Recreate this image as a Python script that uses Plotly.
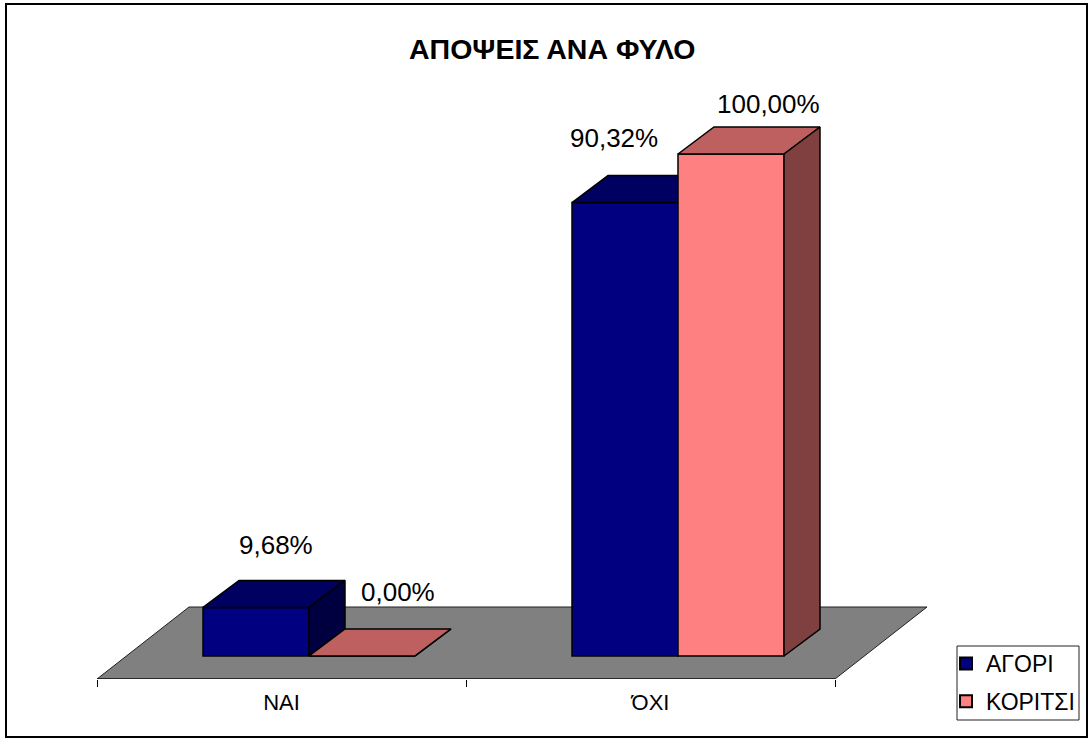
import plotly.graph_objects as go

categories = ["ΝΑΙ", "ΌΧΙ"]
boys = [9.68, 90.32]
girls = [0.0, 100.0]
series_names = ["ΑΓΟΡΙ", "ΚΟΡΙΤΣΙ"]
title_text = "ΑΠΟΨΕΙΣ ΑΝΑ ΦΥΛΟ"

# Layout in page pixels
W, H = 1092, 742
PL, PR, PT, PB = 97, W, 60, 679        # plot area
AXIS_END = 835
PX_PER_CAT = (AXIS_END - PL) / 2
PX_PER_PCT = 5.02
ZERO_PX = 656

AX = [-0.5, 1.5]                       # extent of the category axis line
XR = [-0.5, -0.5 + (PR - PL) / PX_PER_CAT]
YR = [(ZERO_PX - PB) / PX_PER_PCT, (ZERO_PX - PT) / PX_PER_PCT]

BAR_W = 106 / PX_PER_CAT
SHIFT = 27.5 / PX_PER_CAT              # bars sit right of the tick centre
DX = 36 / PX_PER_CAT                   # depth of a bar
DY = 27 / PX_PER_PCT
FLOOR_DX = 92 / PX_PER_CAT
FLOOR_DY = 72 / PX_PER_PCT

NAVY, NAVY_TOP, NAVY_SIDE = "#000080", "#000060", "#000040"
PINK, PINK_TOP, PINK_SIDE = "#FF8080", "#BF6060", "#804040"
FONT = "Liberation Sans"
EDGE = dict(color="black", width=1.5)


def px(x):
    return (x - PL) / (PR - PL)


def py(y):
    return (PB - y) / (PB - PT)


fig = go.Figure()

# Floor
fig.add_trace(go.Scatter(
    x=[AX[0], AX[1], AX[1] + FLOOR_DX, AX[0] + FLOOR_DX, AX[0]],
    y=[YR[0], YR[0], YR[0] + FLOOR_DY, YR[0] + FLOOR_DY, YR[0]],
    mode="lines", fill="toself", fillcolor="#808080",
    line=dict(color="#202020", width=1), cliponaxis=False,
    showlegend=False, hoverinfo="skip",
))
# Axis line
fig.add_trace(go.Scatter(
    x=AX, y=[YR[0], YR[0]], mode="lines", line=dict(color="black", width=1),
    cliponaxis=False, showlegend=False, hoverinfo="skip",
))


def add_series(values, name, offset, front, top, side, xa, ya):
    xs = [i + SHIFT + offset for i in range(len(values))]
    fig.add_trace(go.Bar(
        x=xs, y=values, width=BAR_W, name=name, legendgroup=name,
        marker=dict(color=front, line=EDGE),
        xaxis=xa, yaxis=ya, cliponaxis=False,
    ))
    for xc, v in zip(xs, values):
        l, r = xc - BAR_W / 2, xc + BAR_W / 2
        fig.add_trace(go.Scatter(
            x=[l, r, r + DX, l + DX, l], y=[v, v, v + DY, v + DY, v],
            mode="lines", fill="toself", fillcolor=top, line=EDGE,
            xaxis=xa, yaxis=ya, cliponaxis=False, showlegend=False, hoverinfo="skip",
        ))
        fig.add_trace(go.Scatter(
            x=[r, r + DX, r + DX, r, r], y=[0, DY, v + DY, v, 0],
            mode="lines", fill="toself", fillcolor=side, line=EDGE,
            xaxis=xa, yaxis=ya, cliponaxis=False, showlegend=False, hoverinfo="skip",
        ))


add_series(boys, series_names[0], -BAR_W / 2, NAVY, NAVY_TOP, NAVY_SIDE, "x2", "y2")
add_series(girls, series_names[1], BAR_W / 2, PINK, PINK_TOP, PINK_SIDE, "x3", "y3")

# Data labels
LABEL_SHIFTS = {(0, 0): (20, 62), (1, 0): (36, 64), (0, 1): (-11, 65), (1, 1): (37, 50)}
annotations = []
for s, (values, offset) in enumerate([(boys, -BAR_W / 2), (girls, BAR_W / 2)]):
    for i, v in enumerate(values):
        sx, sy = LABEL_SHIFTS[(s, i)]
        annotations.append(dict(
            x=i + SHIFT + offset, y=v, xref="x", yref="y", xshift=sx, yshift=sy,
            text=f"{v:.2f}".replace(".", ",") + "%", showarrow=False,
            font=dict(family=FONT, size=26, color="black"),
            xanchor="center", yanchor="middle",
        ))
annotations.append(dict(
    x=px(552), y=py(49), xref="paper", yref="paper", text=f"<b>{title_text}</b>",
    showarrow=False, font=dict(family=FONT, size=28.5, color="black"),
    xanchor="center", yanchor="middle",
))

hidden = dict(visible=False, showgrid=False, zeroline=False)
fig.update_layout(
    width=W, height=H, margin=dict(l=PL, r=W - PR, t=PT, b=H - PB, pad=0),
    paper_bgcolor="white", plot_bgcolor="rgba(0,0,0,0)", barmode="overlay",
    font=dict(family=FONT, color="black"),
    xaxis=dict(
        range=XR, tickmode="array", tickvals=[0, 1], ticktext=categories, ticks="",
        showline=False, showgrid=False, zeroline=False,
        tickfont=dict(family=FONT, size=22, color="black"), ticklabelstandoff=8,
        minor=dict(tickmode="array", tickvals=[-0.5, 0.5, 1.5], ticks="outside",
                   ticklen=7, tickcolor="black", tickwidth=1, showgrid=False),
    ),
    yaxis=dict(range=YR, **hidden),
    xaxis2=dict(range=XR, overlaying="x", anchor="y2", **hidden),
    yaxis2=dict(range=YR, overlaying="y", anchor="x2", **hidden),
    xaxis3=dict(range=XR, overlaying="x", anchor="y3", **hidden),
    yaxis3=dict(range=YR, overlaying="y", anchor="x3", **hidden),
    legend=dict(
        x=px(946), y=py(642), xanchor="left", yanchor="top",
        bgcolor="rgba(0,0,0,0)", borderwidth=0,
        font=dict(family=FONT, size=23, color="black"),
        itemsizing="constant", tracegroupgap=5, traceorder="grouped",
    ),
    annotations=annotations,
    shapes=[
        dict(type="rect", xref="paper", yref="paper", x0=px(6), x1=px(1087),
             y0=py(737), y1=py(4), line=dict(color="black", width=2), layer="below"),
        dict(type="rect", xref="paper", yref="paper", x0=px(957), x1=px(1079),
             y0=py(720), y1=py(646), line=dict(color="#222222", width=1), layer="below"),
    ],
)

fig.write_html("out.html", config={"displayModeBar": False},
               post_script="document.body.style.margin='0';document.body.style.overflow='hidden';")
